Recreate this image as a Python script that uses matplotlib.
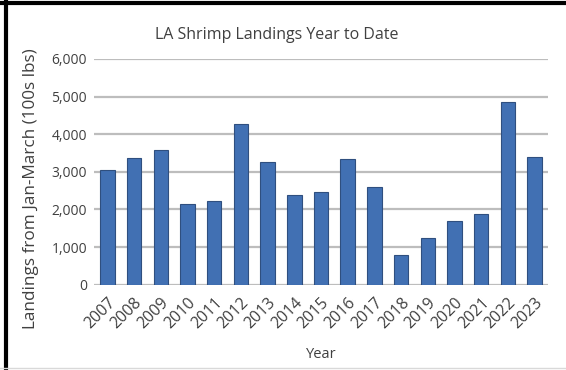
import matplotlib
matplotlib.use("Agg")
import matplotlib.pyplot as plt
from matplotlib.lines import Line2D

years = ["2007", "2008", "2009", "2010", "2011", "2012", "2013", "2014", "2015",
         "2016", "2017", "2018", "2019", "2020", "2021", "2022", "2023"]
landings = [3050, 3380, 3575, 2140, 2220, 4280, 3265, 2395, 2475,
            3345, 2605, 780, 1240, 1695, 1890, 4860, 3405]
y_ticks = [0, 1000, 2000, 3000, 4000, 5000, 6000]

plt.rcParams['font.family'] = ['Open Sans', 'DejaVu Sans']

W, H = 566, 370
fig = plt.figure(figsize=(W / 100, H / 100), dpi=100)
ax = fig.add_axes([94 / W, 1 - 284.7 / H, (548 - 94) / W, (284.7 - 59) / H])

x = list(range(len(years)))
ax.bar(x, landings, width=0.54, color="#4170B3", edgecolor="#2F4F7F",
       linewidth=0.8, zorder=3)

ax.set_xlim(-0.5, len(years) - 0.5)
ax.set_ylim(0, 6000)
ax.set_yticks(y_ticks)
ax.set_yticklabels([f"{v:,}" for v in y_ticks], fontsize=10, color="#404040")
ax.set_xticks(x)
ax.set_xticklabels(years, rotation=45, ha="right", va="top",
                   rotation_mode="anchor", fontsize=11.5, color="#404040")
ax.tick_params(length=0)
ax.tick_params(axis="y", pad=5)
ax.tick_params(axis="x", pad=7)
ax.grid(axis="y", color="#BDBDBD", linewidth=1.6, zorder=0)
for s in ax.spines.values():
    s.set_visible(False)

ax.set_xlabel("Year", fontsize=10.5, color="#404040")
ax.xaxis.set_label_coords(321 / W, 1 - 347 / H, transform=fig.transFigure)
ax.set_ylabel("Landings from Jan-March (100s lbs)", fontsize=12.3,
              color="#404040")
ax.yaxis.set_label_coords(39 / W, 1 - 189 / H, transform=fig.transFigure)

fig.text(277 / W, 1 - 35 / H, "LA Shrimp Landings Year to Date",
         ha="center", va="center", fontsize=11.5, color="#404040")

# frame around the chart
fig.add_artist(Line2D([5.5 / W, 5.5 / W], [0, 1], color="black", linewidth=3,
                      transform=fig.transFigure))
fig.add_artist(Line2D([0, 1], [1 - 3 / H, 1 - 3 / H], color="black", linewidth=3,
                      transform=fig.transFigure))
fig.add_artist(Line2D([0, 1], [1 - 368 / H, 1 - 368 / H], color="#D9D9D9",
                      linewidth=1, transform=fig.transFigure))

fig.savefig("out.png", dpi=100)
